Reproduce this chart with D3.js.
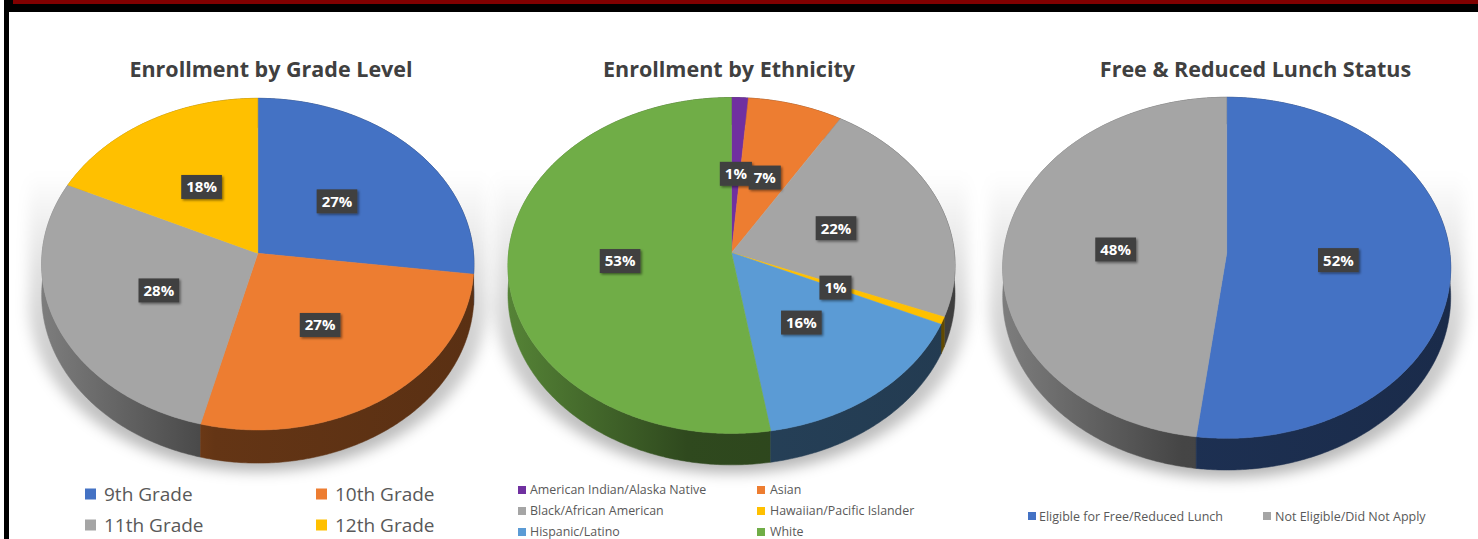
<!DOCTYPE html>
<html><head><meta charset="utf-8">
<script src="https://cdn.jsdelivr.net/npm/d3@7"></script>
<style>html,body{margin:0;padding:0;background:#fff;}svg{display:block;}</style>
</head><body>
<script>
// ---- data ----
const gradeCategories = ["9th Grade", "10th Grade", "11th Grade", "12th Grade"];
const gradeValues = [27, 27, 28, 18];
const gradeColors = ["#4472C4", "#ED7D31", "#A5A5A5", "#FFC000"];

const ethnicityCategories = ["American Indian/Alaska Native", "Asian", "Black/African American", "Hawaiian/Pacific Islander", "Hispanic/Latino", "White"];
const ethnicityValues = [1.3, 7.4, 22.4, 0.7, 15.6, 52.6];
const ethnicityColors = ["#7030A0", "#ED7D31", "#A5A5A5", "#FFC000", "#5B9BD5", "#70AD47"];

const lunchCategories = ["Eligible for Free/Reduced Lunch", "Not Eligible/Did Not Apply"];
const lunchValues = [52, 48];
const lunchColors = ["#4472C4", "#A5A5A5"];

const titles = ["Enrollment by Grade Level", "Enrollment by Ethnicity", "Free & Reduced Lunch Status"];

// ---- layout ----
const W = 1478, H = 539;
const svg = d3.select("body").append("svg").attr("width", W).attr("height", H);
const defs = svg.append("defs");
svg.append("rect").attr("width", W).attr("height", H).attr("fill", "#fff");

// frame
svg.append("rect").attr("x", 4).attr("y", 0).attr("width", W - 4).attr("height", 12).attr("fill", "#000");
svg.append("rect").attr("x", 13).attr("y", 0).attr("width", W - 13).attr("height", 4).attr("fill", "#800000");
svg.append("rect").attr("x", 4).attr("y", 0).attr("width", 5).attr("height", H).attr("fill", "#000");

// filters
const blur = defs.append("filter").attr("id", "pieShadow").attr("x", "-20%").attr("y", "-20%").attr("width", "140%").attr("height", "140%");
blur.append("feGaussianBlur").attr("stdDeviation", 7);
const lblShadow = defs.append("filter").attr("id", "lblShadow").attr("x", "-30%").attr("y", "-30%").attr("width", "160%").attr("height", "160%");
lblShadow.append("feDropShadow").attr("dx", 1.5).attr("dy", 1.5).attr("stdDeviation", 1.2).attr("flood-color", "#000").attr("flood-opacity", 0.45);
const shGrad = defs.append("linearGradient").attr("id", "shGrad").attr("x1", 0).attr("x2", 0).attr("y1", 0).attr("y2", 1);
shGrad.append("stop").attr("offset", 0).attr("stop-color", "#000").attr("stop-opacity", 0);
shGrad.append("stop").attr("offset", 0.35).attr("stop-color", "#000").attr("stop-opacity", 0.13);
shGrad.append("stop").attr("offset", 1).attr("stop-color", "#000").attr("stop-opacity", 0.3);

const pies = [
  {cats: gradeCategories, vals: gradeValues, cols: gradeColors, title: titles[0], tx: 271,
   cfg: {cx: 257.8, cy: 253.3, A: 215.7, B: 165.1, k: 0.0654, H: 31}},
  {cats: ethnicityCategories, vals: ethnicityValues, cols: ethnicityColors, title: titles[1], tx: 729,
   cfg: {cx: 731.5, cy: 252.7, A: 222.9, B: 167.0, k: 0.0762, H: 29}},
  {cats: lunchCategories, vals: lunchValues, cols: lunchColors, title: titles[2], tx: 1255.5,
   cfg: {cx: 1226.7, cy: 253.3, A: 223.2, B: 169.3, k: 0.085, H: 29}}
];

function proj(c, theta, r, z) {
  const u = r * Math.sin(theta), v = -r * Math.cos(theta);
  const w = 1 - c.k * v;
  return [c.cx + c.A * u / w, c.cy + (c.B * v + c.H * z) / w];
}
function arcPts(c, a0, a1, r, z) {
  const n = Math.max(2, Math.ceil((a1 - a0) / 0.01));
  const pts = [];
  for (let i = 0; i <= n; i++) pts.push(proj(c, a0 + (a1 - a0) * i / n, r, z));
  return pts;
}
const line = d3.line();
function shade(col, f) { const c = d3.rgb(col); return d3.rgb(c.r * f, c.g * f, c.b * f).formatHex(); }

const pieGen = d3.pie().sort(null).value(d => d.v).startAngle(0).endAngle(2 * Math.PI);

pies.forEach((p, pi) => {
  const c = p.cfg;
  const g = svg.append("g");
  const color = d3.scaleOrdinal().domain(p.cats).range(p.cols);

  // title
  svg.append("text").attr("x", p.tx).attr("y", 77).attr("text-anchor", "middle")
    .attr("font-family", "'Open Sans', 'Noto Sans', sans-serif").attr("font-weight", 700)
    .attr("font-size", 21.5).attr("fill", "#404040").text(p.title);

  // soft shadow behind (vertical band with rounded bottom)
  const sc = Object.assign({}, c, {A: c.A * 1.06, cy: c.cy + 8});
  const bottom = arcPts(sc, Math.PI / 2, 3 * Math.PI / 2, 1.0, 1);
  const shPts = [[sc.cx + sc.A, c.cy - 80]].concat(bottom).concat([[sc.cx - sc.A, c.cy - 80]]);
  g.append("path").attr("d", line(shPts) + "Z")
    .attr("fill", "url(#shGrad)").attr("filter", "url(#pieShadow)");

  const data = p.cats.map((k, i) => ({k, v: p.vals[i]}));
  const arcs = pieGen(data);

  // side gradients
  arcs.forEach((a, i) => {
    const col = color(a.data.k);
    const gr = defs.append("linearGradient").attr("id", `side${pi}_${i}`)
      .attr("gradientUnits", "userSpaceOnUse")
      .attr("x1", c.cx - c.A).attr("x2", c.cx + c.A).attr("y1", 0).attr("y2", 0);
    gr.append("stop").attr("offset", 0).attr("stop-color", shade(col, 0.76));
    gr.append("stop").attr("offset", 0.4).attr("stop-color", shade(col, 0.42));
    gr.append("stop").attr("offset", 1).attr("stop-color", shade(col, 0.38));
  });

  // sides, back to front
  const sides = arcs.map((a, i) => {
    const mid = (a.startAngle + a.endAngle) / 2;
    return {a, i, depth: -Math.cos(mid)};
  }).sort((x, y) => x.depth - y.depth);
  sides.forEach(s => {
    const top = arcPts(c, s.a.startAngle, s.a.endAngle, 1, 0);
    const bot = arcPts(c, s.a.startAngle, s.a.endAngle, 1, 1).reverse();
    g.append("path").attr("d", line(top.concat(bot)) + "Z")
      .attr("fill", `url(#side${pi}_${s.i})`)
      .attr("stroke", `url(#side${pi}_${s.i})`).attr("stroke-width", 0.5);
  });

  // top faces
  arcs.forEach(a => {
    const pts = [proj(c, 0, 0, 0)].concat(arcPts(c, a.startAngle, a.endAngle, 1, 0));
    g.append("path").attr("d", line(pts) + "Z")
      .attr("fill", color(a.data.k)).attr("stroke", color(a.data.k)).attr("stroke-width", 0.5);
  });

  // labels
  arcs.forEach(a => {
    const mid = (a.startAngle + a.endAngle) / 2;
    const [lx, ly] = proj(c, mid, 0.5, 0);
    const txt = Math.round(a.data.v) + "%";
    const lg = g.append("g").attr("transform", `translate(${lx},${ly + 1.5})`);
    const t = lg.append("text").attr("text-anchor", "middle").attr("dy", "0.36em")
      .attr("font-family", "'Open Sans', 'Noto Sans', sans-serif").attr("font-weight", 700)
      .attr("font-size", 15).attr("fill", "#fff").text(txt);
    const bw = t.node().getComputedTextLength() + 10;
    lg.insert("rect", "text").attr("x", -bw / 2).attr("y", -12).attr("width", bw).attr("height", 24)
      .attr("fill", "#404040").attr("filter", "url(#lblShadow)");
  });
});

// ---- legends ----
function legend(cats, cols, items) {
  cats.forEach((k, i) => {
    const it = items[i];
    svg.append("rect").attr("x", it.sx).attr("y", it.cy - it.s / 2).attr("width", it.s).attr("height", it.s).attr("fill", cols[i]);
    svg.append("text").attr("x", it.tx).attr("y", it.cy).attr("dy", "0.36em")
      .attr("font-family", "'Open Sans', 'Noto Sans', sans-serif").attr("font-size", it.fs)
      .attr("fill", "#595959").text(k);
  });
}
legend(gradeCategories, gradeColors, [
  {sx: 85, tx: 104, cy: 494, s: 11, fs: 19},
  {sx: 316, tx: 335, cy: 494, s: 11, fs: 19},
  {sx: 85, tx: 104, cy: 525, s: 11, fs: 19},
  {sx: 316, tx: 335, cy: 525, s: 11, fs: 19}
]);
legend(ethnicityCategories, ethnicityColors, [
  {sx: 518, tx: 530, cy: 490, s: 8, fs: 12.4},
  {sx: 757, tx: 770, cy: 490, s: 8, fs: 12.4},
  {sx: 518, tx: 530, cy: 511, s: 8, fs: 12.4},
  {sx: 757, tx: 770, cy: 511, s: 8, fs: 12.4},
  {sx: 518, tx: 530, cy: 532, s: 8, fs: 12.4},
  {sx: 757, tx: 770, cy: 532, s: 8, fs: 12.4}
]);
legend(lunchCategories, lunchColors, [
  {sx: 1028, tx: 1039, cy: 516, s: 8, fs: 12.5},
  {sx: 1263, tx: 1275, cy: 516, s: 8, fs: 12.5}
]);
</script>
</body></html>
